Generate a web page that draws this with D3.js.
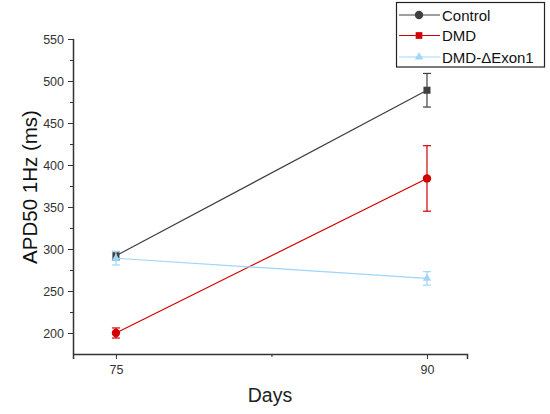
<!DOCTYPE html>
<html><head><meta charset="utf-8">
<script src="https://cdn.jsdelivr.net/npm/d3@7"></script>
<style>body{margin:0;background:#fff}svg{display:block}</style>
</head><body>
<script>
const days = [75, 90];
const seriesNames = ["Control", "DMD", "DMD-ΔExon1"];
const controlMean = [292, 489];
const controlErr = [5, 20];
const dmdMean = [200, 384];
const dmdErr = [6, 39];
const exonMean = [289, 265];
const exonErr = [8, 8];
const yTicks = [200, 250, 300, 350, 400, 450, 500, 550];
const xTicks = [75, 90];

const W = 550, H = 414;
const svg = d3.select("body").append("svg").attr("width", W).attr("height", H);
const font = "'Liberation Sans', Arial, sans-serif";

const x = d3.scaleLinear().domain([72.93, 91.93]).range([73, 467]);
const y = d3.scaleLinear().domain([175, 550]).range([354, 39]);

// axes
const yAxis = d3.axisLeft(y).tickValues(yTicks).tickSize(5).tickPadding(4);
const gy = svg.append("g").attr("transform", "translate(73,0)").call(yAxis);
const yMinor = d3.axisLeft(y).tickValues(d3.range(225, 550, 50)).tickSize(3).tickFormat("");
svg.append("g").attr("transform", "translate(73,0)").call(yMinor).select(".domain").remove();

const xAxis = d3.axisBottom(x).tickValues(xTicks).tickSize(5).tickPadding(6);
const gx = svg.append("g").attr("transform", "translate(0,354)").call(xAxis);
const xMinor = d3.axisBottom(x).tickValues([82.5]).tickSize(3).tickFormat("");
svg.append("g").attr("transform", "translate(0,354)").call(xMinor).select(".domain").remove();

svg.selectAll(".domain").attr("stroke", "#333").attr("stroke-width", 1.5);
svg.selectAll(".tick line").attr("stroke", "#333").attr("stroke-width", 1);
svg.selectAll(".tick text").attr("font-family", font).attr("font-size", 12.5).attr("fill", "#333");
gy.selectAll("path.domain").attr("d", "M0.5,39V354");

svg.append("text").attr("x", 270).attr("y", 402).attr("text-anchor", "middle")
  .attr("font-family", font).attr("font-size", 19.5).attr("fill", "#222").text("Days");
svg.append("text").attr("transform", "translate(37,187) rotate(-90)").attr("text-anchor", "middle")
  .attr("font-family", font).attr("font-size", 20.5).attr("fill", "#111").text("APD50 1Hz (ms)");

const series = [
  {name: seriesNames[0], mean: controlMean, err: controlErr, color: "#404040", sym: d3.symbolSquare, size: 50, lsym: d3.symbolCircle, lsize: 55},
  {name: seriesNames[1], mean: dmdMean, err: dmdErr, color: "#d40000", sym: d3.symbolCircle, size: 55, lsym: d3.symbolSquare, lsize: 45},
  {name: seriesNames[2], mean: exonMean, err: exonErr, color: "#9dd6f7", sym: d3.symbolTriangle, size: 30, lsym: d3.symbolTriangle, lsize: 30}
];

const line = d3.line().x(d => x(d[0])).y(d => y(d[1]));
series.forEach(s => {
  const pts = days.map((d, i) => [d, s.mean[i], s.err[i]]);
  const g = svg.append("g");
  g.append("path").attr("d", line(pts)).attr("fill", "none").attr("stroke", s.color).attr("stroke-width", 1.2);
  pts.forEach(p => {
    const cx = x(p[0]);
    g.append("line").attr("x1", cx).attr("x2", cx).attr("y1", y(p[1] - p[2])).attr("y2", y(p[1] + p[2]))
      .attr("stroke", s.color).attr("stroke-width", 1.2);
    [p[1] - p[2], p[1] + p[2]].forEach(v => {
      g.append("line").attr("x1", cx - 4).attr("x2", cx + 4).attr("y1", y(v)).attr("y2", y(v))
        .attr("stroke", s.color).attr("stroke-width", 1.2);
    });
    g.append("path").attr("d", d3.symbol().type(s.sym).size(s.size)())
      .attr("transform", `translate(${cx},${y(p[1])})`).attr("fill", s.color);
  });
});

// legend
const lg = svg.append("g");
lg.append("rect").attr("x", 396.5).attr("y", 2.5).attr("width", 148).attr("height", 64.5)
  .attr("fill", "#fff").attr("stroke", "#222").attr("stroke-width", 1.2);
const ly = [15, 35.5, 57];
series.forEach((s, i) => {
  lg.append("line").attr("x1", 399).attr("x2", 440).attr("y1", ly[i]).attr("y2", ly[i])
    .attr("stroke", s.color).attr("stroke-width", 1.2);
  lg.append("path").attr("d", d3.symbol().type(s.lsym).size(s.lsize)())
    .attr("transform", `translate(419,${ly[i]})`).attr("fill", s.color);
  lg.append("text").attr("x", 442).attr("y", ly[i] + 5.5).attr("font-family", font)
    .attr("font-size", 15).attr("fill", "#111").text(s.name);
});
</script>
</body></html>
